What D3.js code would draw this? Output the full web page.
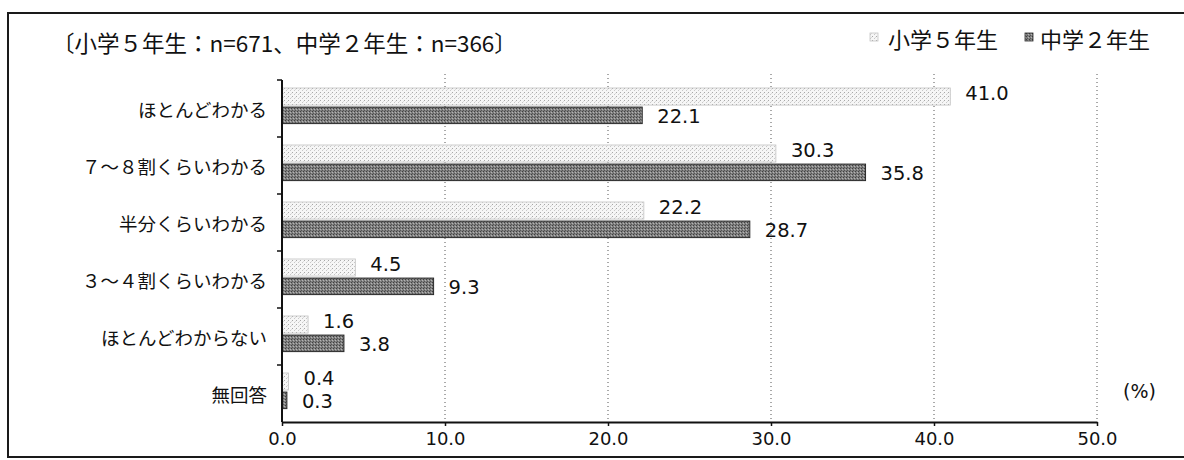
<!DOCTYPE html>
<html>
<head>
<meta charset="utf-8">
<script src="https://cdn.jsdelivr.net/npm/d3@7"></script>
<style>
  html, body { margin: 0; padding: 0; background: #fff; }
  svg { display: block; }
  text { font-family: "Noto Sans CJK JP", "Noto Sans", sans-serif; fill: #111; }
  .num { font-family: "DejaVu Sans", "Noto Sans", sans-serif; }
</style>
</head>
<body>
<svg id="chart" width="1184" height="460"></svg>
<script>
// ---- data ----
const categories = ["ほとんどわかる", "７～８割くらいわかる", "半分くらいわかる", "３～４割くらいわかる", "ほとんどわからない", "無回答"];
const seriesNames = ["小学５年生", "中学２年生"];
const grade5 = [41.0, 30.3, 22.2, 4.5, 1.6, 0.4];
const grade8 = [22.1, 35.8, 28.7, 9.3, 3.8, 0.3];
const xTicks = [0, 10, 20, 30, 40, 50];
const titleText = "〔小学５年生：n=671、中学２年生：n=366〕";
const unitText = "(%)";

// ---- layout ----
const svg = d3.select("#chart");
const plot = { left: 282, right: 1097, top: 80, bottom: 422 };

// patterns
const defs = svg.append("defs");
const pl = defs.append("pattern").attr("id", "pLight").attr("patternUnits", "userSpaceOnUse").attr("width", 4).attr("height", 4);
pl.append("rect").attr("width", 4).attr("height", 4).attr("fill", "#f6f6f6");
pl.append("rect").attr("x", 0).attr("y", 0).attr("width", 1).attr("height", 1).attr("fill", "#a8a8a8");
pl.append("rect").attr("x", 2).attr("y", 2).attr("width", 1).attr("height", 1).attr("fill", "#c8c8c8");
pl.append("rect").attr("x", 3).attr("y", 1).attr("width", 1).attr("height", 1).attr("fill", "#dcdcdc");
const pd = defs.append("pattern").attr("id", "pDark").attr("patternUnits", "userSpaceOnUse").attr("width", 3).attr("height", 3);
pd.append("rect").attr("width", 3).attr("height", 3).attr("fill", "#808080");
pd.append("rect").attr("x", 0).attr("y", 0).attr("width", 1).attr("height", 1).attr("fill", "#404040");
pd.append("rect").attr("x", 2).attr("y", 1).attr("width", 1).attr("height", 1).attr("fill", "#b4b4b4");
pd.append("rect").attr("x", 1).attr("y", 2).attr("width", 1).attr("height", 1).attr("fill", "#555");

// frame
svg.append("rect").attr("x", 8).attr("y", 13).attr("width", 1190).attr("height", 444)
  .attr("fill", "none").attr("stroke", "#1a1a1a").attr("stroke-width", 2);

// scales
const x = d3.scaleLinear().domain([0, 50]).range([plot.left, plot.right]);
const y = d3.scaleBand().domain(categories).range([plot.top, plot.bottom]).padding(0);
const bw = y.bandwidth();

// gridlines
svg.append("g").selectAll("line").data(xTicks.filter(d => d > 0)).join("line")
  .attr("x1", d => x(d)).attr("x2", d => x(d))
  .attr("y1", 74).attr("y2", plot.bottom)
  .attr("stroke", "#555").attr("stroke-width", 1).attr("stroke-dasharray", "1,3");

// bars
const rows = categories.map((c, i) => ({ c, a: grade5[i], b: grade8[i] }));
const g = svg.append("g");
g.selectAll("rect.a").data(rows).join("rect").attr("class", "a")
  .attr("x", x(0)).attr("y", d => y(d.c) + bw * 0.14)
  .attr("width", d => x(d.a) - x(0)).attr("height", bw * 0.30)
  .attr("fill", "url(#pLight)").attr("stroke", "#c4c4c4").attr("stroke-width", 0.8);
g.selectAll("rect.b").data(rows).join("rect").attr("class", "b")
  .attr("x", x(0)).attr("y", d => y(d.c) + bw * 0.475)
  .attr("width", d => x(d.b) - x(0)).attr("height", bw * 0.29)
  .attr("fill", "url(#pDark)").attr("stroke", "#2a2a2a").attr("stroke-width", 1);

// value labels
const fmt = d3.format(".1f");
g.selectAll("text.la").data(rows).join("text").attr("class", "la num")
  .attr("x", d => x(d.a) + 15).attr("y", d => y(d.c) + bw * 0.235)
  .attr("dominant-baseline", "central").attr("font-size", 19.5)
  .text(d => fmt(d.a));
g.selectAll("text.lb").data(rows).join("text").attr("class", "lb num")
  .attr("x", d => x(d.b) + 15).attr("y", d => y(d.c) + bw * 0.635)
  .attr("dominant-baseline", "central").attr("font-size", 19.5)
  .text(d => fmt(d.b));

// y axis (line + ticks at band boundaries)
const yAxis = svg.append("g");
yAxis.append("line").attr("x1", plot.left).attr("x2", plot.left)
  .attr("y1", plot.top).attr("y2", plot.bottom).attr("stroke", "#111").attr("stroke-width", 2);
yAxis.selectAll("line.t").data(categories).join("line").attr("class", "t")
  .attr("x1", plot.left - 5).attr("x2", plot.left)
  .attr("y1", d => y(d)).attr("y2", d => y(d)).attr("stroke", "#111").attr("stroke-width", 1.5);
yAxis.selectAll("text").data(categories).join("text")
  .attr("x", 267).attr("y", d => y(d) + bw / 2)
  .attr("text-anchor", "end").attr("dominant-baseline", "central").attr("font-size", 18.5)
  .text(d => d);

// x axis
const xAxis = svg.append("g").attr("transform", `translate(0,${plot.bottom})`)
  .call(d3.axisBottom(x).tickValues(xTicks).tickFormat(fmt).tickSize(4).tickSizeOuter(0));
xAxis.select(".domain").attr("stroke", "#111").attr("stroke-width", 2);
xAxis.selectAll(".tick line").attr("stroke", "#111").attr("stroke-width", 1.5);
xAxis.selectAll(".tick text").attr("class", "num").attr("font-size", 18).attr("font-family", null)
  .attr("fill", "#111").attr("dy", "0.55em").attr("y", 13);

// unit
svg.append("text").attr("class", "num").attr("x", 1123).attr("y", 391).attr("dominant-baseline", "central")
  .attr("font-size", 19).text(unitText);

// title
svg.append("text").attr("x", 52).attr("y", 42).attr("dominant-baseline", "central")
  .attr("font-size", 22.5).text(titleText);

// legend
const legend = svg.append("g");
const legendItems = [
  { name: seriesNames[0], fill: "url(#pLight)", stroke: "#c4c4c4", sx: 870, tx: 888 },
  { name: seriesNames[1], fill: "url(#pDark)", stroke: "#2a2a2a", sx: 1025, tx: 1040 }
];
legend.selectAll("rect").data(legendItems).join("rect")
  .attr("x", d => d.sx).attr("y", 33).attr("width", 8).attr("height", 8)
  .attr("fill", d => d.fill).attr("stroke", d => d.stroke).attr("stroke-width", 0.8);
legend.selectAll("text").data(legendItems).join("text")
  .attr("x", d => d.tx).attr("y", 38).attr("dominant-baseline", "central")
  .attr("font-size", 22).text(d => d.name);
</script>
</body>
</html>
